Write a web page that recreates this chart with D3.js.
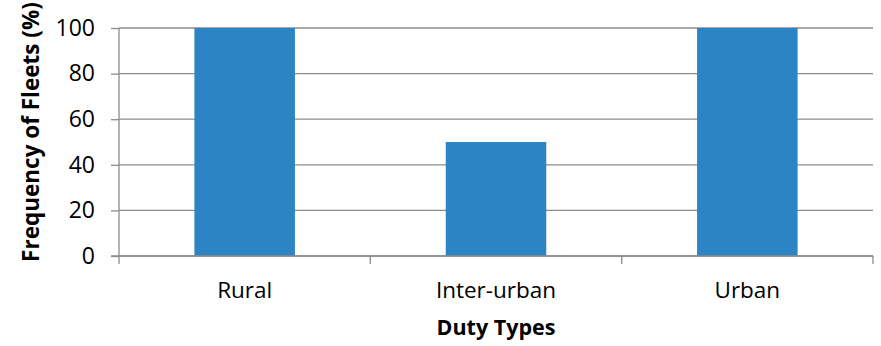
<!DOCTYPE html>
<html>
<head>
<meta charset="utf-8">
<script src="https://cdn.jsdelivr.net/npm/d3@7"></script>
<style>
  body { margin: 0; background: #fff; }
  svg text { font-family: "Open Sans", sans-serif; fill: #000; }
</style>
</head>
<body>
<div id="chart"></div>
<script>
var categories = ["Rural", "Inter-urban", "Urban"];
var frequency = [100, 50, 100];
var yTicks = [0, 20, 40, 60, 80, 100];

function init() {
  var width = 881;
  var height = 346;
  var left = 119, right = 873, top = 28, bottom = 256;

  var svg = d3.select("#chart")
    .append("svg")
    .attr("width", width)
    .attr("height", height);

  var xScale = d3.scaleBand()
    .domain(categories)
    .range([left, right])
    .paddingInner(0.6)
    .paddingOuter(0.3);

  var yScale = d3.scaleLinear()
    .domain([0, 100])
    .range([bottom, top]);

  // gridlines
  svg.append("g")
    .selectAll("line")
    .data(yTicks)
    .enter()
    .append("line")
    .attr("x1", left)
    .attr("x2", right)
    .attr("y1", function(d) { return yScale(d); })
    .attr("y2", function(d) { return yScale(d); })
    .attr("stroke", "#8c8c8c")
    .attr("stroke-width", 1.3);

  // bars
  svg.selectAll("rect.bar")
    .data(frequency)
    .enter()
    .append("rect")
    .attr("class", "bar")
    .attr("x", function(d, i) { return xScale(categories[i]); })
    .attr("y", function(d) { return yScale(d); })
    .attr("width", xScale.bandwidth())
    .attr("height", function(d) { return yScale(0) - yScale(d); })
    .attr("fill", "#2d84c5");

  var yAxis = d3.axisLeft(yScale)
    .tickValues(yTicks)
    .tickSize(8)
    .tickPadding(16);

  var gy = svg.append("g")
    .attr("transform", "translate(" + left + ",0)")
    .call(yAxis);
  gy.select(".domain").attr("stroke", "#8c8c8c").attr("stroke-width", 1.3)
    .attr("d", "M0," + top + "V" + bottom);
  gy.selectAll(".tick line").attr("stroke", "#8c8c8c").attr("stroke-width", 1.3);
  gy.selectAll(".tick text").attr("font-size", "23px");

  // x axis: ticks at band boundaries
  var bounds = categories.map(function(c) { return xScale(c) - xScale.step() * xScale.paddingInner() / 2; });
  bounds.push(right);
  var gx = svg.append("g");
  gx.append("line")
    .attr("x1", left - 8).attr("x2", right)
    .attr("y1", bottom).attr("y2", bottom)
    .attr("stroke", "#8c8c8c").attr("stroke-width", 1.3);
  gx.selectAll("line.tk")
    .data(bounds)
    .enter()
    .append("line")
    .attr("class", "tk")
    .attr("x1", function(d) { return d; })
    .attr("x2", function(d) { return d; })
    .attr("y1", bottom)
    .attr("y2", bottom + 8)
    .attr("stroke", "#8c8c8c").attr("stroke-width", 1.3);
  gx.selectAll("text")
    .data(categories)
    .enter()
    .append("text")
    .attr("x", function(d) { return xScale(d) + xScale.bandwidth() / 2; })
    .attr("y", 298)
    .attr("text-anchor", "middle")
    .attr("font-size", "22.5px")
    .text(function(d) { return d; });

  svg.append("text")
    .attr("x", 496)
    .attr("y", 335)
    .attr("text-anchor", "middle")
    .attr("font-size", "21.5px")
    .attr("font-weight", "bold")
    .text("Duty Types");

  svg.append("text")
    .attr("transform", "translate(39," + ((top + bottom) / 2 - 10) + ") rotate(-90)")
    .attr("text-anchor", "middle")
    .attr("font-size", "22.5px")
    .attr("font-weight", "bold")
    .text("Frequency of Fleets (%)");
}
window.onload = init;
</script>
</body>
</html>
